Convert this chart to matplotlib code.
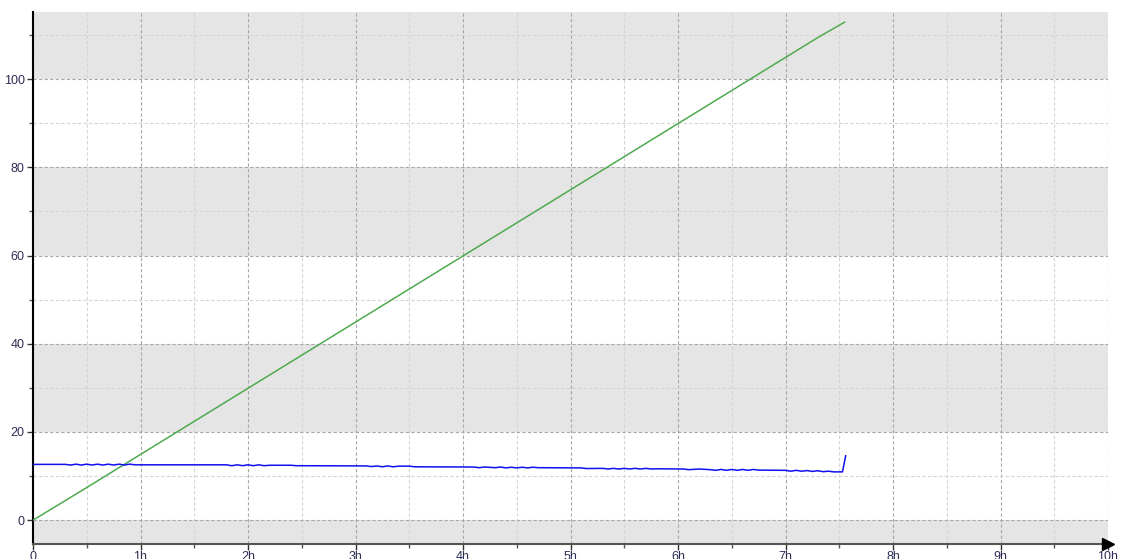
import matplotlib
matplotlib.use("Agg")
import matplotlib.pyplot as plt
from matplotlib.ticker import MultipleLocator, FixedLocator

plt.rcParams['font.family'] = ['Liberation Sans', 'DejaVu Sans']

# Elapsed time in hours and the two recorded series
green_hours = [0.0, 0.5, 1.0, 1.5, 2.0, 2.5, 3.0, 3.5, 4.0, 4.5, 5.0,
               5.5, 6.0, 6.5, 7.0, 7.3, 7.55]
green_values = [0.0, 7.4, 14.9, 22.4, 29.9, 37.4, 44.9, 52.4, 59.9, 67.4, 74.9,
                82.4, 89.9, 97.4, 104.9, 109.4, 112.9]

blue_hours = [0.00, 0.30, 0.35, 0.40, 0.45, 0.50, 0.55, 0.60, 0.65, 0.70, 0.75,
              0.80, 0.85, 0.90, 0.95, 1.80, 1.85, 1.90, 1.95, 2.00, 2.05, 2.10,
              2.15, 2.20, 2.40, 2.45, 3.10, 3.15, 3.20, 3.25, 3.30, 3.35, 3.40,
              3.50, 3.55, 4.10, 4.15, 4.20, 4.30, 4.35, 4.40, 4.45, 4.50, 4.55,
              4.60, 4.65, 4.70, 5.10, 5.15, 5.30, 5.35, 5.40, 5.45, 5.50, 5.55,
              5.60, 5.65, 5.70, 5.75, 5.80, 6.05, 6.10, 6.20, 6.30, 6.35, 6.40,
              6.45, 6.50, 6.55, 6.60, 6.65, 6.70, 6.75, 7.00, 7.05, 7.10, 7.15,
              7.20, 7.25, 7.30, 7.35, 7.40, 7.45, 7.50, 7.53, 7.56]
blue_values = [12.65, 12.65, 12.5, 12.7, 12.5, 12.7, 12.5, 12.7, 12.5, 12.7, 12.5,
               12.7, 12.5, 12.7, 12.55, 12.55, 12.35, 12.55, 12.35, 12.55, 12.35, 12.55,
               12.35, 12.45, 12.45, 12.35, 12.3, 12.15, 12.3, 12.1, 12.3, 12.1, 12.25,
               12.25, 12.1, 12.05, 11.9, 12.05, 11.9, 12.05, 11.85, 12.0, 11.85, 12.0,
               11.85, 12.0, 11.9, 11.85, 11.7, 11.75, 11.6, 11.75, 11.6, 11.75, 11.6,
               11.75, 11.6, 11.75, 11.6, 11.65, 11.6, 11.45, 11.6, 11.45, 11.3, 11.5,
               11.3, 11.5, 11.3, 11.5, 11.3, 11.5, 11.35, 11.3, 11.1, 11.3, 11.1,
               11.25, 11.05, 11.2, 11.0, 11.1, 10.95, 10.95, 10.95, 14.6]

x_ticks = list(range(0, 11))
x_labels = ["0"] + [f"{h}h" for h in range(1, 11)]
y_ticks = [0, 20, 40, 60, 80, 100]

fig = plt.figure(figsize=(11.22, 5.59), dpi=100)
ax = fig.add_axes([33 / 1122, 15 / 559, 1075 / 1122, 532 / 559])

xmin, xmax = 0, 10
ymin, ymax = -5.4, 115.2
ax.set_xlim(xmin, xmax)
ax.set_ylim(ymin, ymax)

# Alternating horizontal bands
for lo in (-20, 20, 60, 100):
    ax.axhspan(lo, lo + 20, color="#e5e5e5", zorder=0, lw=0)

ax.xaxis.set_major_locator(FixedLocator(x_ticks))
ax.set_xticklabels(x_labels)
ax.xaxis.set_minor_locator(MultipleLocator(0.5))
ax.yaxis.set_major_locator(FixedLocator(y_ticks))
ax.yaxis.set_minor_locator(FixedLocator([10, 30, 50, 70, 90, 110]))

ax.grid(which="major", color="#a8a8a8", linestyle=(0, (3, 2)), linewidth=0.8, zorder=1)
ax.grid(which="minor", color="#d4d4d4", linestyle=(0, (3, 2)), linewidth=0.8, zorder=1)
ax.set_axisbelow(True)

label_color = "#2d2d55"
ax.tick_params(axis="both", which="major", length=4, width=1, color="#333333",
               labelsize=9, labelcolor=label_color)
ax.tick_params(axis="both", which="minor", length=3, width=1, color="#555555")
ax.tick_params(axis="x", pad=1)
ax.tick_params(axis="y", pad=2)

for side in ("top", "right"):
    ax.spines[side].set_visible(False)
ax.spines["left"].set_color("#000000")
ax.spines["left"].set_linewidth(1.5)
ax.spines["bottom"].set_color("#555555")
ax.spines["bottom"].set_linewidth(1.5)

# Arrow head at the end of the time axis
ax.plot([xmax], [ymin], marker=">", markersize=8, color="black",
        transform=ax.transData, clip_on=False, zorder=5)

ax.plot(green_hours, green_values, color="#4fa94f", linewidth=1.1, zorder=3)
ax.plot(blue_hours, blue_values, color="#1010f0", linewidth=1.1, zorder=3)

fig.savefig("out.png", dpi=100)
